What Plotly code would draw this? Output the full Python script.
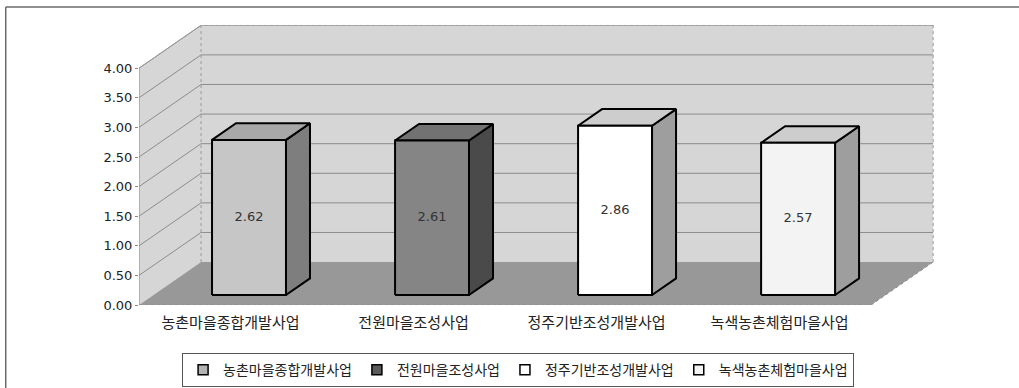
import plotly.graph_objects as go

# ---- data ----
categories = ["농촌마을종합개발사업", "전원마을조성사업", "정주기반조성개발사업", "녹색농촌체험마을사업"]
values = [2.62, 2.61, 2.86, 2.57]
y_ticks = [0.0, 0.5, 1.0, 1.5, 2.0, 2.5, 3.0, 3.5, 4.0]

# ---- styling ----
front_colors = ["#c6c6c6", "#858585", "#ffffff", "#f3f3f3"]
top_colors = ["#a8a8a8", "#727272", "#cdcdcd", "#cdcdcd"]
side_colors = ["#7e7e7e", "#4a4a4a", "#9e9e9e", "#9e9e9e"]
legend_colors = ["#b4b4b4", "#5a5a5a", "#ffffff", "#f3f3f3"]
WALL = "#d6d6d6"
FLOOR = "#989898"
GRID = "#8c8c8c"
FONT = "Noto Sans CJK KR"
NUM_FONT = "DejaVu Sans"

# oblique projection of the depth axis onto x / y
DEPTH_X = 0.339
DEPTH_Y = 0.725
Y_TOP = 4.0
N = len(categories)
BAR_LEFT = 0.32
BAR_W = 0.404
Z_FRONT = 0.233
Z_BACK = 0.62


def proj(x, y, z):
    return x + z * DEPTH_X, y + z * DEPTH_Y


fig = go.Figure()


def polygon(pts, fill, line_color="rgba(0,0,0,0)", line_width=0):
    xs = [p[0] for p in pts] + [pts[0][0]]
    ys = [p[1] for p in pts] + [pts[0][1]]
    fig.add_trace(go.Scatter(
        x=xs, y=ys, mode="lines", fill="toself", fillcolor=fill,
        line=dict(color=line_color, width=line_width),
        hoverinfo="skip", showlegend=False))


def segment(p, q, color=GRID, width=1, dash="solid"):
    fig.add_trace(go.Scatter(
        x=[p[0], q[0]], y=[p[1], q[1]], mode="lines",
        line=dict(color=color, width=width, dash=dash),
        hoverinfo="skip", showlegend=False))


# walls and floor
polygon([proj(0, 0, 1), proj(N, 0, 1), proj(N, Y_TOP, 1), proj(0, Y_TOP, 1)], WALL)
polygon([proj(0, 0, 0), proj(0, 0, 1), proj(0, Y_TOP, 1), proj(0, Y_TOP, 0)], WALL)

# gridlines on the back and side walls
for t in y_ticks[1:]:
    segment(proj(0, t, 1), proj(N, t, 1))
    segment(proj(0, t, 0), proj(0, t, 1))

polygon([proj(0, 0, 0), proj(N, 0, 0), proj(N, 0, 1), proj(0, 0, 1)], FLOOR)

# wall edges
segment(proj(0, 0, 1), proj(0, Y_TOP, 1), color="#9a9a9a", dash="dot")
segment(proj(N, 0, 1), proj(N, Y_TOP, 1), color="#9a9a9a", dash="dot")
segment(proj(0, Y_TOP, 1), proj(N, Y_TOP, 1), color="#b0b0b0", dash="dot")
segment(proj(0, Y_TOP, 0), proj(0, Y_TOP, 1), color="#9a9a9a")
segment(proj(0, 0, 0), proj(0, Y_TOP, 0), color="#8a8a8a")
segment(proj(0, 0, 0), proj(N, 0, 0), color="#8a8a8a", dash="dot")
segment(proj(N, 0, 0), proj(N, 0, 1), color="#8a8a8a", dash="dot")

# 3-D bars
for i, v in enumerate(values):
    x0 = i + BAR_LEFT
    x1 = x0 + BAR_W
    polygon([proj(x1, 0, Z_FRONT), proj(x1, 0, Z_BACK), proj(x1, v, Z_BACK), proj(x1, v, Z_FRONT)],
            side_colors[i], "#000000", 2)
    polygon([proj(x0, v, Z_FRONT), proj(x1, v, Z_FRONT), proj(x1, v, Z_BACK), proj(x0, v, Z_BACK)],
            top_colors[i], "#000000", 2)
    polygon([proj(x0, 0, Z_FRONT), proj(x1, 0, Z_FRONT), proj(x1, v, Z_FRONT), proj(x0, v, Z_FRONT)],
            front_colors[i], "#000000", 2)
    lx, ly = proj((x0 + x1) / 2, v / 2, Z_FRONT)
    fig.add_trace(go.Scatter(
        x=[lx], y=[ly], mode="text", text=[f"{v:.2f}"],
        textfont=dict(family=NUM_FONT, size=13, color="#333333"),
        hoverinfo="skip", showlegend=False))

# legend entries
for name, col in zip(categories, legend_colors):
    fig.add_trace(go.Scatter(
        x=[None], y=[None], mode="markers", name=name,
        marker=dict(symbol="square", size=10, color=col, line=dict(color="#000000", width=1.5))))

# outer frame (top and left edges)
fig.add_shape(type="line", xref="paper", yref="paper", x0=-0.167, x1=1.2, y0=1.064, y1=1.064,
              line=dict(color="#6a6a6a", width=1.5))
fig.add_shape(type="line", xref="paper", yref="paper", x0=-0.167, x1=-0.167, y0=1.064, y1=-0.4,
              line=dict(color="#6a6a6a", width=1.5))

fig.update_layout(
    width=1019, height=388,
    margin=dict(l=139, r=82, t=25, b=83, autoexpand=False),
    plot_bgcolor="#ffffff", paper_bgcolor="#ffffff",
    font=dict(family=FONT, size=14, color="#222222"),
    xaxis=dict(range=[0, 4.36], showgrid=False, zeroline=False, showline=False, automargin=False,
               tickvals=[i + 0.5 for i in range(N)], ticktext=categories,
               ticks="outside", ticklen=4, tickcolor="rgba(0,0,0,0)",
               tickfont=dict(family=FONT, size=15, color="#222222")),
    yaxis=dict(range=[0, 4.73], showgrid=False, zeroline=False, showline=False, automargin=False,
               tickvals=y_ticks, ticktext=[f"{t:.2f}" for t in y_ticks],
               ticks="outside", ticklen=3, tickcolor="#8a8a8a",
               tickfont=dict(family=NUM_FONT, size=13, color="#222222")),
    showlegend=True,
    legend=dict(orientation="h", x=0.054, xanchor="left", y=-0.172, yanchor="top",
                bordercolor="#555555", borderwidth=1, bgcolor="#ffffff",
                font=dict(family=FONT, size=14, color="#222222"),
                itemwidth=30, tracegroupgap=0),
)

fig.write_html("out.html")
